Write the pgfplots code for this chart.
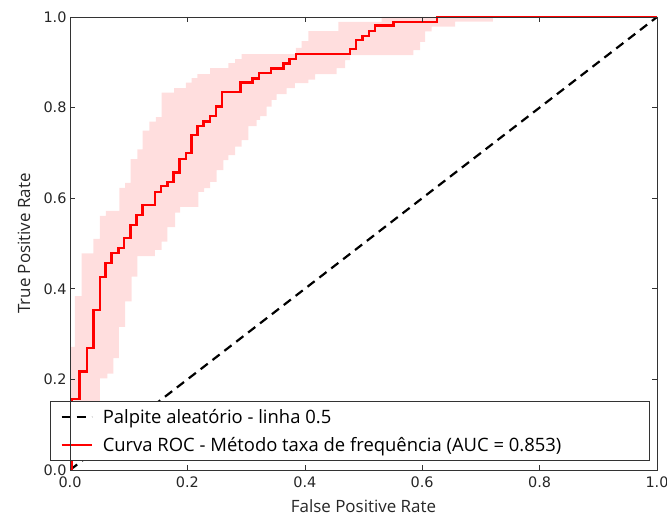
\documentclass[border=0pt]{standalone}
\usepackage{fontspec}
\setmainfont{Open Sans}
\newfontfamily\tickfont{DejaVu Sans}
\usepackage{pgfplots}
\pgfplotsset{compat=1.18}
\usepgfplotslibrary{fillbetween}
\begin{document}
\begin{tikzpicture}
\begin{axis}[
  scale only axis, width=587bp, height=453bp,
  xmin=0, xmax=1, ymin=0, ymax=1,
  xtick={0,0.2,0.4,0.6,0.8,1.0}, ytick={0,0.2,0.4,0.6,0.8,1.0},
  /pgf/number format/assume math mode=true,
  /pgf/number format/fixed, /pgf/number format/fixed zerofill, /pgf/number format/precision=1,
  tick label style={font=\tickfont\fontsize{14.5}{17}\selectfont, text=black!85},
  xticklabel style={anchor=north, yshift=-3bp},
  xlabel={False Positive Rate}, ylabel={True Positive Rate},
  label style={font=\fontsize{17}{20}\selectfont, text=black!85},
  xlabel style={at={(axis description cs:0.5,-0.0949)}, anchor=base},
  ylabel style={at={(axis description cs:-0.068,0.5)}, anchor=base, rotate=0},
  axis line style={black!80, line width=0.8bp},
  tick style={black!80, line width=0.6bp},
  major tick length=5bp,
  tick align=inside,
  axis on top=true,
  legend image code/.code={\draw[#1] (0bp,0bp) -- (30bp,0bp);},
  legend cell align=left,
  legend style={at={(-0.0341,0.0199)}, anchor=south west, draw=black!80, line width=0.8bp,
    font=\fontsize{18.5}{21}\selectfont, inner xsep=10bp, inner ysep=5.5bp, row sep=8.7bp},
]
\addplot[const plot, draw=none, name path=up, forget plot] coordinates {
(0,0.272) (0.0085,0.384) (0.0199,0.478) (0.0397,0.510) (0.0511,0.561) (0.0613,0.572)
(0.0840,0.623) (0.0937,0.634) (0.1034,0.686) (0.1147,0.708) (0.1238,0.749) (0.1351,0.769)
(0.1465,0.779) (0.1562,0.833) (0.1772,0.843) (0.1976,0.855) (0.2073,0.865) (0.2169,0.874)
(0.2385,0.887) (0.2697,0.898) (0.2811,0.907) (0.2925,0.918) (0.3850,0.932) (0.3947,0.947)
(0.4060,0.969) (0.4571,0.989) (0.5310,1.0) (1.0,1.0)};
\addplot[const plot, draw=none, name path=lo, forget plot] coordinates {
(0,0) (0.0034,0.051) (0.0273,0.099) (0.0511,0.202) (0.0635,0.213) (0.0738,0.247)
(0.0831,0.316) (0.0937,0.372) (0.1051,0.427) (0.1147,0.472) (0.1448,0.486) (0.1562,0.504)
(0.1658,0.536) (0.1789,0.568) (0.1874,0.581) (0.2186,0.614) (0.2283,0.622) (0.2385,0.636)
(0.2499,0.662) (0.2612,0.684) (0.2697,0.695) (0.2811,0.714) (0.2925,0.728) (0.3037,0.759)
(0.3181,0.773) (0.3237,0.781) (0.3351,0.802) (0.3436,0.817) (0.3521,0.830) (0.3692,0.843)
(0.3833,0.854) (0.4060,0.862) (0.4174,0.874) (0.4543,0.887) (0.4685,0.905) (0.4770,0.916)
(0.5848,0.927) (0.5963,0.945) (0.6048,0.968) (0.6162,0.979) (0.6559,0.990) (0.7206,1.0) (1.0,1.0)};
\addplot[fill=red, fill opacity=0.13, draw=none, forget plot] fill between[of=up and lo];
\addplot[black, line width=2.2bp, dash pattern=on 9bp off 6bp] coordinates {(0,0) (1,1)};
\addlegendentry{\hspace*{8bp}Palpite aleatório - linha 0.5}
\addplot[const plot, red, line width=2.4bp] coordinates {
(0,0) (0.0034,0.1567) (0.0162,0.2170) (0.0290,0.2693) (0.0400,0.3532) (0.0511,0.4267)
(0.0608,0.4576) (0.0710,0.4784) (0.0823,0.4894) (0.0925,0.5115) (0.1034,0.5408) (0.1136,0.5629)
(0.1232,0.5850) (0.1448,0.6143) (0.1550,0.6269) (0.1658,0.6358) (0.1760,0.6563) (0.1862,0.6865)
(0.1976,0.7004) (0.2073,0.7395) (0.2175,0.7594) (0.2271,0.7689) (0.2385,0.7815) (0.2487,0.8020)
(0.2589,0.8344) (0.2905,0.8550) (0.3109,0.8642) (0.3220,0.8764) (0.3424,0.8863) (0.3634,0.8974)
(0.3739,0.9073) (0.3855,0.9179) (0.4770,0.9287) (0.4872,0.9486) (0.4983,0.9585) (0.5089,0.9695)
(0.5198,0.9808) (0.5508,0.9890) (0.6247,1.0) (1.0,1.0)};
\addlegendentry{\hspace*{8bp}Curva ROC - Método taxa de frequência (AUC = 0.853)\hspace*{76bp}}
\end{axis}
\pgfresetboundingbox
\path[use as bounding box] (-70bp,-50bp) rectangle (597bp,470bp);
\end{tikzpicture}
\end{document}
